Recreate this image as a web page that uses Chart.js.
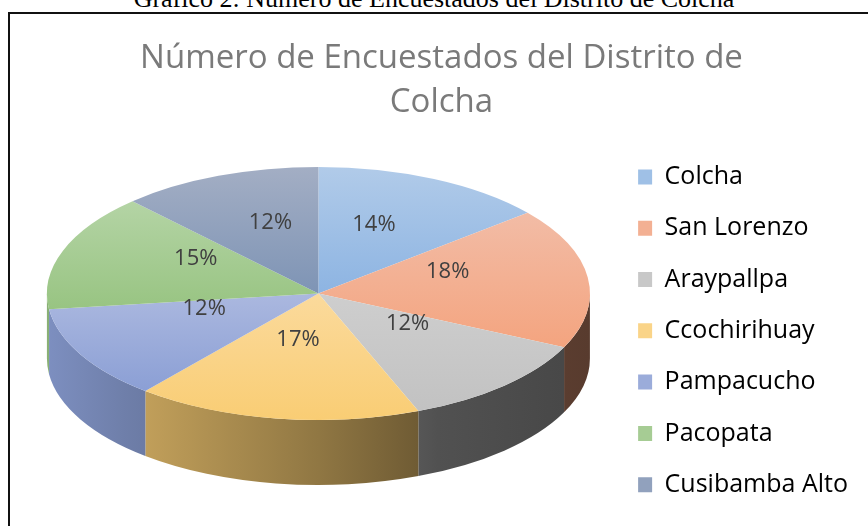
<!DOCTYPE html>
<html>
<head>
<meta charset="utf-8">
<script src="https://cdn.jsdelivr.net/npm/chart.js@4.4.0/dist/chart.umd.min.js"></script>
<style>
  html, body { margin: 0; padding: 0; background: #fff; overflow: hidden; }
  #wrap { position: relative; width: 868px; height: 526px; overflow: hidden; }
  #caption { position: absolute; left: 0; right: 0; top: -14px; line-height: 26px; text-align: center;
             font-family: "Liberation Serif", "Times New Roman", serif; font-size: 26px; color: #000; white-space: nowrap; }
  #frame { position: absolute; left: 8px; top: 12px; width: 900px; height: 560px; border: 2px solid #111; box-sizing: border-box; }
  #pieChart { position: absolute; left: 0; top: 0; }
</style>
</head>
<body>
<div id="wrap">
  <div id="caption">Gráfico 2: Número de Encuestados del Distrito de Colcha</div>
  <div id="frame"></div>
  <canvas id="pieChart" width="868" height="526"></canvas>
</div>
<script>
// data
const districts = ['Colcha', 'San Lorenzo', 'Araypallpa', 'Ccochirihuay', 'Pampacucho', 'Pacopata', 'Cusibamba Alto'];
const shares = [14, 18, 12, 17, 12, 15, 12];

// colours: light top of each slice, darker bottom
const lightColors = ['#b1cbe9', '#f2bca6', '#cecece', '#fbda9c', '#abb8df', '#b4d4a5', '#a3aec4'];
const baseColors = ['#8db4e2', '#f4a47f', '#c2c2c2', '#f9cd74', '#8b9fd5', '#98c482', '#7e94b5'];

// 3d look
const RX = 271.5, RY = 126.5, DEPTH = 65, APEX_LIFT = 14;
const sideStops = [[0, 0.9], [0.14, 0.8], [0.5, 0.58], [0.72, 0.42], [1, 0.36]];

const hexRgb = (hex) => {
  const n = parseInt(hex.slice(1), 16);
  return [(n >> 16) & 255, (n >> 8) & 255, n & 255];
};
const shade = (hex, f) => 'rgb(' + hexRgb(hex).map(v => Math.round(v * f)).join(',') + ')';
const mix = (a, b) => {
  const x = hexRgb(a), y = hexRgb(b);
  return 'rgb(' + x.map((v, i) => Math.round((v + y[i]) / 2)).join(',') + ')';
};

// vertical gradient over each slice's own height (in the flat pie's space)
function sliceFill(c) {
  const i = c.dataIndex;
  const area = c.chart.chartArea;
  if (!area) return baseColors[i];
  const cy = (area.top + area.bottom) / 2;
  const r = Math.min(area.right - area.left, area.bottom - area.top) / 2;
  const total = shares.reduce((s, v) => s + v, 0);
  const before = shares.slice(0, i).reduce((s, v) => s + v, 0);
  const s = -Math.PI / 2 + before / total * 2 * Math.PI;
  const e = s + shares[i] / total * 2 * Math.PI;
  let ys = [0, Math.sin(s), Math.sin(e)];
  if (s < -Math.PI / 2 + 1e-6) ys.push(-1);
  if (s <= Math.PI / 2 && e >= Math.PI / 2) ys.push(1);
  if (s <= 3 * Math.PI / 2 && e >= 3 * Math.PI / 2) ys.push(-1);
  const y0 = cy + r * Math.min(...ys), y1 = cy + r * Math.max(...ys);
  const g = c.chart.ctx.createLinearGradient(0, y0, 0, y1);
  g.addColorStop(0, lightColors[i]);
  g.addColorStop(1, baseColors[i]);
  return g;
}

const pie3d = {
  id: 'pie3d',
  beforeDatasetsDraw(chart) {
    const ctx = chart.ctx;
    const area = chart.chartArea;
    const arcs = chart.getDatasetMeta(0).data;
    const cx = (area.left + area.right) / 2;
    const cy = area.top + RY;
    // front walls
    arcs.forEach((arc, i) => {
      const a = Math.max(arc.startAngle, 0);
      const b = Math.min(arc.endAngle, Math.PI);
      if (b <= a) return;
      const g = ctx.createLinearGradient(cx - RX, 0, cx + RX, 0);
      sideStops.forEach(([p, f]) => g.addColorStop(p, shade(baseColors[i], f)));
      ctx.beginPath();
      ctx.ellipse(cx, cy, RX, RY, 0, a, b);
      ctx.ellipse(cx, cy + DEPTH, RX, RY, 0, b, a, true);
      ctx.closePath();
      ctx.fillStyle = g;
      ctx.fill();
    });
    // squash the round pie into the top face
    const p = arcs[0];
    ctx.save();
    ctx.translate(cx, cy);
    ctx.scale(RX / p.outerRadius, RY / p.outerRadius);
    ctx.translate(-p.x, -p.y);
  },
  afterDatasetsDraw(chart) {
    const ctx = chart.ctx;
    ctx.restore();
    const area = chart.chartArea;
    const arcs = chart.getDatasetMeta(0).data;
    const cx = (area.left + area.right) / 2;
    const cy = area.top + RY - APEX_LIFT;
    const total = shares.reduce((s, v) => s + v, 0);
    ctx.save();
    ctx.font = '22px "Open Sans"';
    ctx.fillStyle = '#404040';
    ctx.textAlign = 'center';
    ctx.textBaseline = 'middle';
    arcs.forEach((arc, i) => {
      const mid = (arc.startAngle + arc.endAngle) / 2;
      const x = cx + 0.48 * RX * Math.cos(mid);
      const y = cy + 0.48 * RY * Math.sin(mid);
      ctx.fillText(Math.round(shares[i] / total * 100) + '%', x, y);
    });
    ctx.restore();
  }
};

new Chart(document.getElementById('pieChart'), {
  type: 'pie',
  data: {
    labels: districts,
    datasets: [{
      data: shares,
      backgroundColor: sliceFill,
      borderWidth: 0,
      hoverOffset: 0,
    }],
  },
  options: {
    responsive: false,
    animation: false,
    events: [],
    layout: { padding: { left: 25, right: 10, top: 0, bottom: 2.5 } },
    plugins: {
      title: {
        display: true,
        text: ['Número de Encuestados del Distrito de', 'Colcha'],
        color: '#7a7a7a',
        font: { family: 'Open Sans', size: 33, weight: 'normal', lineHeight: 1.333 },
        padding: { top: 37, bottom: 42 },
      },
      legend: {
        position: 'right',
        align: 'end',
        labels: {
          color: '#767676',
          font: { family: 'Open Sans', size: 25 },
          boxWidth: 14,
          boxHeight: 15,
          padding: 26.3,
          generateLabels: () => districts.map((name, i) => ({
            text: name,
            fillStyle: mix(lightColors[i], baseColors[i]),
            strokeStyle: mix(lightColors[i], baseColors[i]),
            lineWidth: 0,
            hidden: false,
            index: i,
          })),
        },
      },
      tooltip: { enabled: false },
    },
  },
  plugins: [pie3d],
});
</script>
</body>
</html>
